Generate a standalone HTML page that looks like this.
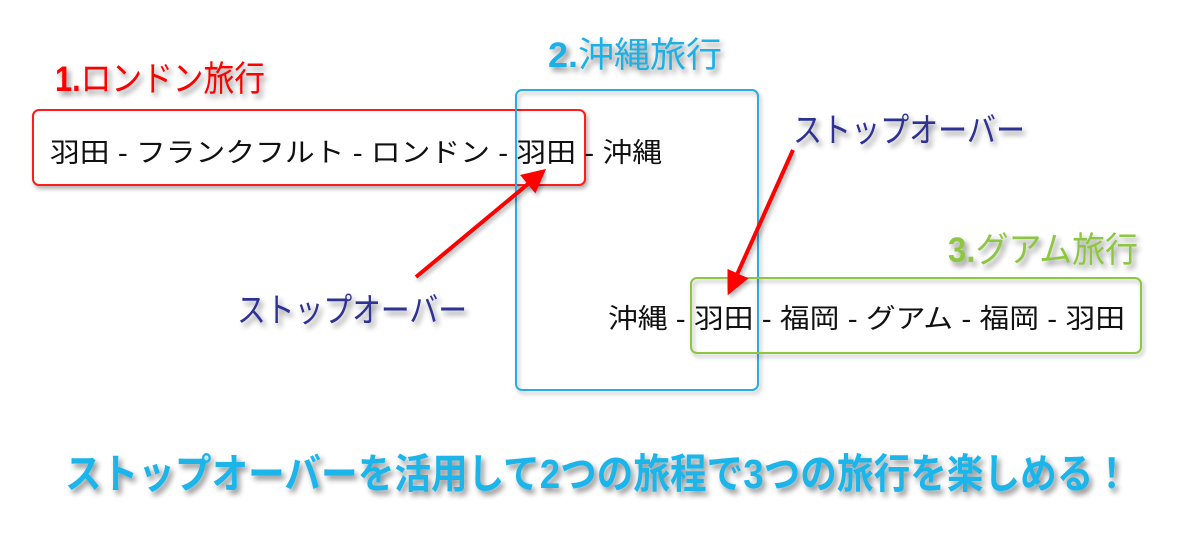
<!DOCTYPE html>
<html><head><meta charset="utf-8"><style>
html,body{margin:0;padding:0;background:#fff;}
svg{display:block;}
text{font-family:"Liberation Sans","Noto Sans CJK JP",sans-serif;}
</style></head><body>
<svg width="1202" height="534" viewBox="0 0 1202 534" xmlns="http://www.w3.org/2000/svg">
<defs>
<filter id="sh" x="-10%" y="-30%" width="120%" height="170%">
<feGaussianBlur in="SourceAlpha" stdDeviation="3"/>
<feOffset dx="3" dy="4" result="b"/>
<feComponentTransfer><feFuncA type="linear" slope="0.45"/></feComponentTransfer>
<feMerge><feMergeNode/><feMergeNode in="SourceGraphic"/></feMerge>
</filter>
<filter id="bs" x="-5%" y="-5%" width="110%" height="115%">
<feGaussianBlur in="SourceAlpha" stdDeviation="2"/>
<feOffset dx="2" dy="3"/>
<feComponentTransfer><feFuncA type="linear" slope="0.3"/></feComponentTransfer>
<feMerge><feMergeNode/><feMergeNode in="SourceGraphic"/></feMerge>
</filter>
<marker id="ah" markerWidth="6" markerHeight="6" refX="4" refY="3" orient="auto" markerUnits="strokeWidth">
<path d="M0,0 L6,3 L0,6 z" fill="#ff0000"/>
</marker>
</defs>

<rect x="33" y="110" width="552" height="75" rx="6" fill="#fff" stroke="#ff1a1a" stroke-width="2" filter="url(#bs)"/>
<rect x="516" y="90" width="242" height="300" rx="6" fill="none" stroke="#29abe2" stroke-width="2" filter="url(#bs)"/>
<rect x="691" y="278" width="450" height="75" rx="6" fill="none" stroke="#8dc63f" stroke-width="2" filter="url(#bs)"/>

<text x="55" y="91" font-size="35" fill="#ff0000" textLength="210" lengthAdjust="spacingAndGlyphs" filter="url(#sh)"><tspan font-weight="bold">1.</tspan>ロンドン旅行</text>
<text x="548" y="67" font-size="35" fill="#1fb0e6" textLength="174" lengthAdjust="spacingAndGlyphs" filter="url(#sh)"><tspan font-weight="bold">2.</tspan>沖縄旅行</text>
<text x="948" y="262" font-size="35" fill="#8dc63f" textLength="190" lengthAdjust="spacingAndGlyphs" filter="url(#sh)"><tspan font-weight="bold">3.</tspan>グアム旅行</text>

<text x="50" y="162" font-size="27" fill="#111" textLength="612" lengthAdjust="spacingAndGlyphs">羽田 - フランクフルト - ロンドン - 羽田 - 沖縄</text>
<text x="608" y="328" font-size="27" fill="#111" textLength="517" lengthAdjust="spacingAndGlyphs">沖縄 - 羽田 - 福岡 - グアム - 福岡 - 羽田</text>

<text x="793" y="142" font-size="34" fill="#2e3192" textLength="232" lengthAdjust="spacingAndGlyphs" filter="url(#sh)">ストップオーバー</text>
<text x="237" y="322" font-size="34" fill="#2e3192" textLength="230" lengthAdjust="spacingAndGlyphs" filter="url(#sh)">ストップオーバー</text>

<line x1="416" y1="277" x2="540" y2="174" stroke="#ff0000" stroke-width="4" marker-end="url(#ah)" filter="url(#bs)"/>
<line x1="793" y1="150" x2="731" y2="288" stroke="#ff0000" stroke-width="4" marker-end="url(#ah)" filter="url(#bs)"/>

<text x="65" y="488" font-size="41" font-weight="bold" fill="#1fb5ea" textLength="1065" lengthAdjust="spacingAndGlyphs" filter="url(#sh)">ストップオーバーを活用して2つの旅程で3つの旅行を楽しめる！</text>
</svg>
</body></html>
